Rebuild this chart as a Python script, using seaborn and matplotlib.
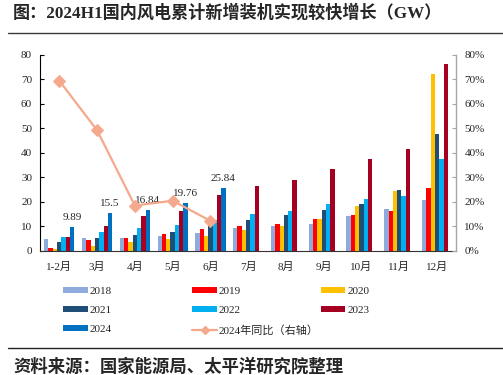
import numpy as np
import pandas as pd
import matplotlib
matplotlib.use("Agg")
import matplotlib.pyplot as plt
import seaborn as sns
from matplotlib.patches import Patch
from matplotlib.lines import Line2D
from matplotlib.ticker import FuncFormatter, MultipleLocator

# ---------------- data ----------------
months = ['1-2月', '3月', '4月', '5月', '6月', '7月', '8月', '9月', '10月', '11月', '12月']
years = ['2018', '2019', '2020', '2021', '2022', '2023', '2024']
v2018 = [4.9, 5.2, 5.3, 6.2, 7.4, 9.5, 10.3, 11.1, 14.4, 17.1, 20.9]
v2019 = [1.3, 4.6, 5.4, 6.8, 8.9, 10.3, 11.1, 13.0, 14.7, 16.4, 25.8]
v2020 = [0.7, 2.2, 3.5, 4.7, 6.2, 8.6, 10.1, 12.9, 18.3, 24.6, 72.3]
v2021 = [3.5, 5.1, 6.4, 7.7, 10.8, 12.6, 14.7, 16.6, 19.3, 24.7, 47.7]
v2022 = [5.6, 7.8, 9.4, 10.7, 12.8, 15.1, 16.2, 19.3, 21.2, 22.6, 37.6]
v2023 = [5.8, 10.3, 14.2, 16.3, 23.0, 26.5, 28.9, 33.6, 37.5, 41.6, 76.1]
v2024 = [9.89, 15.5, 16.84, 19.76, 25.84]
yoy2024 = [0.694, 0.492, 0.185, 0.205, 0.123]
yoy_label = '2024年同比（右轴）'

colors = ['#8FAADC', '#FF0000', '#FFC000', '#1F4E79', '#00B0F0', '#A50021', '#0070C0']
line_color = '#F4A98C'

series = [v2018, v2019, v2020, v2021, v2022, v2023, v2024]
rows = []
for y, vals in zip(years, series):
    for m, v in zip(months, vals):
        rows.append({'month': m, 'year': y, 'value': v})
df = pd.DataFrame(rows)
palette = dict(zip(years, colors))

# ---------------- style ----------------
sns.set_style('white')
plt.rcParams['font.family'] = ['Liberation Serif', 'Noto Sans CJK SC']
plt.rcParams['axes.unicode_minus'] = False

W, H = 503, 375
fig = plt.figure(figsize=(W / 100, H / 100), dpi=100)
ax = fig.add_axes([40.4 / W, 1 - 251 / H, (456 - 40.4) / W, (251 - 54.7) / H])

sns.barplot(data=df, x='month', y='value', hue='year', order=months, hue_order=years,
            palette=palette, width=0.8, saturation=1, linewidth=0, legend=False, ax=ax)

# data labels on 2024 bars
ax.bar_label(ax.containers[6], labels=[f'{v:g}' for v in v2024], padding=3.5, fontsize=8)

ax.set_ylim(0, 80)
ax.set_xlim(-0.5, len(months) - 0.5)
ax.set_xlabel('')
ax.set_ylabel('')
ax.yaxis.set_major_locator(MultipleLocator(10))
ax.tick_params(axis='y', direction='in', length=3, width=0.8, color='black', labelsize=8, pad=6)
ax.tick_params(axis='x', which='major', length=0, labelsize=8, pad=7.5)
ax.set_xticks(np.arange(0.5, len(months) - 0.5, 1), minor=True)
ax.tick_params(axis='x', which='minor', direction='in', length=3, width=0.8, color='#333333')
for s in ['top', 'right']:
    ax.spines[s].set_visible(False)
ax.spines['left'].set_color('black')
ax.spines['left'].set_linewidth(0.8)
ax.spines['bottom'].set_color('#333333')
ax.spines['bottom'].set_linewidth(0.8)

# right axis: yoy line
ax2 = ax.twinx()
sns.lineplot(x=np.arange(len(yoy2024)), y=yoy2024, ax=ax2, color=line_color, lw=1.6,
             marker='D', markersize=6, markeredgecolor=line_color, legend=False)
ax2.set_ylim(0, 0.8)
ax2.set_xlim(-0.5, len(months) - 0.5)
ax2.yaxis.set_major_locator(MultipleLocator(0.1))
ax2.yaxis.set_major_formatter(FuncFormatter(lambda v, p: f'{v * 100:.0f}%'))
ax2.tick_params(axis='y', direction='in', length=3, width=0.8, color='#A6A6A6', labelsize=8, pad=6)
for s in ['top', 'left', 'bottom']:
    ax2.spines[s].set_visible(False)
ax2.spines['right'].set_color('#A6A6A6')
ax2.spines['right'].set_linewidth(1.0)
ax2.set_ylabel('')

# ---------------- legend (three columns) ----------------
bar_handles = [Patch(facecolor=c, edgecolor='none') for c in colors]
line_handle = Line2D([], [], color=line_color, lw=1.6, marker='D', markersize=4)
cols = [
    ([bar_handles[0], bar_handles[3], bar_handles[6]], [years[0], years[3], years[6]], 63.3),
    ([bar_handles[1], bar_handles[4], line_handle], [years[1], years[4], yoy_label], 192.3),
    ([bar_handles[2], bar_handles[5]], [years[2], years[5]], 321.0),
]
for hs, ls, xpx in cols:
    fig.legend(hs, ls, loc='upper left', bbox_to_anchor=(xpx / W, 1 - 286.8 / H),
               frameon=False, fontsize=8, handlelength=2.2, handleheight=0.45,
               handletextpad=0.15, labelspacing=0.9, borderpad=0, borderaxespad=0)

# ---------------- title / source ----------------
fig.text(13 / W, 1 - 12.5 / H, '图：2024H1国内风电累计新增装机实现较快增长（GW）',
         fontsize=12.3, fontweight='bold', va='center', ha='left')
fig.add_artist(Line2D([8 / W, 1], [1 - 33 / H] * 2, transform=fig.transFigure,
                      color='#3A3A3A', lw=1.0))
fig.add_artist(Line2D([8 / W, 1], [1 - 348.3 / H] * 2, transform=fig.transFigure,
                      color='#222222', lw=1.0))
fig.text(13 / W, 1 - 367 / H, '资料来源：国家能源局、太平洋研究院整理',
         fontsize=12.5, fontweight='bold', va='center', ha='left')

fig.savefig('out.png', dpi=100)
